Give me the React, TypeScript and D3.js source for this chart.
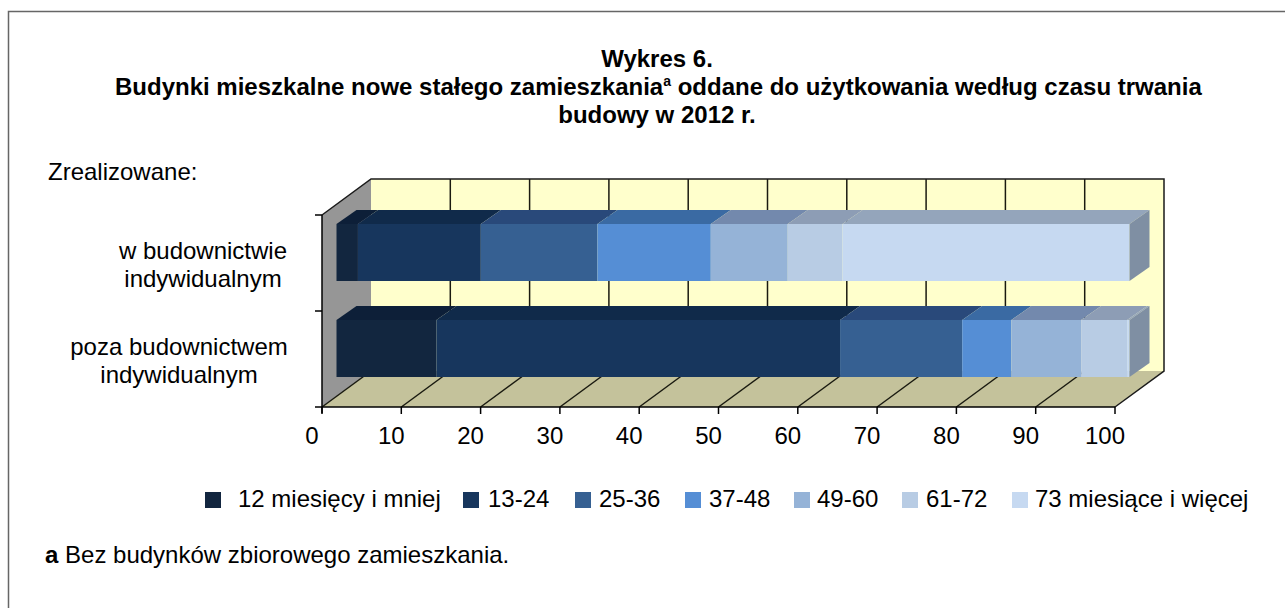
import React from "react"
import { scaleLinear, scaleBand, stack, line } from "d3"

const width = 1285
const height = 608

const categories = ["w budownictwie indywidualnym", "poza budownictwem indywidualnym"]
const seriesNames = ["12 miesięcy i mniej", "13-24", "25-36", "37-48", "49-60", "61-72", "73 miesiące i więcej"]
const individual = [2.7, 15.5, 14.7, 14.3, 9.7, 6.9, 36.2]
const nonIndividual = [12.6, 50.9, 15.4, 6.2, 8.8, 5.8, 0.3]
const xTicks = [0, 10, 20, 30, 40, 50, 60, 70, 80, 90, 100]

const frontColors = ["#12263f", "#17365d", "#366092", "#558ed5", "#95b3d7", "#b8cce4", "#c6d9f1"]
const topColors = ["#0d1f38", "#102a4a", "#29497a", "#3a6aa3", "#7389ad", "#8d9db5", "#94a5bb"]
const sideColor = "#7f8fa3"

const top = 215
const bottom = 407

const xScale = scaleLinear().domain([0, 100]).range([322, 1115])
const yScale = scaleBand().domain(categories).range([top, bottom])

// 3d offsets: full depth of the plot box, and bar placement inside it
const depth = { x: 49, y: -36 }
const barStart = { x: 14.5, y: 9 }
const barDepth = { x: 20, y: -14 }
const barHeight = 57

const rows = categories.map((_, c) => {
  const row: Record<string, number> = {}
  const values = c === 0 ? individual : nonIndividual
  seriesNames.forEach((name, i) => (row[name] = values[i]))
  return row
})
const layers = stack<Record<string, number>>().keys(seriesNames)(rows)

const poly = line()
const path = (pts: [number, number][]) => poly(pts) + "Z"

const font = "'Liberation Sans', Arial, sans-serif"

function Bar({ index }: { index: number }) {
  const y0 = (yScale(categories[index]) as number) + barStart.y
  const y1 = y0 + barHeight
  const x = (v: number) => xScale(v) + barStart.x
  const end = x(100)
  return (
    <g>
      {layers.map((layer, i) => {
        const [a, b] = layer[index]
        return (
          <g key={layer.key}>
            <path
              d={path([
                [x(a), y0],
                [x(b), y0],
                [x(b) + barDepth.x, y0 + barDepth.y],
                [x(a) + barDepth.x, y0 + barDepth.y],
              ])}
              fill={topColors[i]}
            />
            <rect x={x(a)} y={y0} width={x(b) - x(a)} height={barHeight} fill={frontColors[i]} />
          </g>
        )
      })}
      <path
        d={path([
          [end, y0],
          [end + barDepth.x, y0 + barDepth.y],
          [end + barDepth.x, y1 + barDepth.y],
          [end, y1],
        ])}
        fill={sideColor}
      />
    </g>
  )
}

function App() {
  const x0 = xScale(0)
  const x1 = xScale(100)
  const backLeft = x0 + depth.x
  const backRight = x1 + depth.x

  return (
    <svg
      width={width}
      height={height}
      style={{ position: "absolute", left: 0, top: 0 }}
      fontFamily={font}
    >
      <rect width={width} height={height} fill="#fff" />
      <path d={`M8.5,${height}V11.5H${width}`} fill="none" stroke="#666" strokeWidth={1.5} />

      <g fontWeight="bold" fontSize={24} fill="#000">
        <text x={657} y={67} textAnchor="middle">Wykres 6.</text>
        <text x={115} y={95}>
          Budynki mieszkalne nowe stałego zamieszkania
          <tspan fontSize={14} dy={-9}>a</tspan>
          <tspan dy={9}> oddane do użytkowania według czasu trwania</tspan>
        </text>
        <text x={657} y={123} textAnchor="middle">budowy w 2012 r.</text>
      </g>

      <text x={48} y={180} fontSize={24} fill="#000">Zrealizowane:</text>

      {/* walls */}
      <rect x={backLeft} y={top + depth.y} width={x1 - x0} height={bottom - top} fill="#ffffcc" />
      <path
        d={path([
          [x0, top],
          [backLeft, top + depth.y],
          [backLeft, bottom + depth.y],
          [x0, bottom],
        ])}
        fill="#969696"
      />
      <path
        d={path([
          [x0, bottom],
          [x1, bottom],
          [backRight, bottom + depth.y],
          [backLeft, bottom + depth.y],
        ])}
        fill="#c4c29b"
      />

      {/* grid */}
      {xTicks.map((t) => (
        <g key={t} stroke="#1a1a10" strokeWidth={1.5}>
          {t > 0 && t < 100 && (
            <line
              x1={xScale(t) + depth.x}
              x2={xScale(t) + depth.x}
              y1={top + depth.y}
              y2={bottom + depth.y}
            />
          )}
          {t < 100 && (
            <line
              x1={xScale(t)}
              y1={bottom}
              x2={xScale(t) + depth.x}
              y2={bottom + depth.y}
            />
          )}
        </g>
      ))}
      <path
        d={`M${x0},${top}L${backLeft},${top + depth.y}H${backRight}V${bottom + depth.y}L${x1},${bottom}`}
        fill="none"
        stroke="#1a1a1a"
        strokeWidth={1.5}
      />

      <Bar index={0} />
      <Bar index={1} />

      {/* axes */}
      <g stroke="#000" strokeWidth={1.5}>
        <line x1={x0} x2={x0} y1={top} y2={bottom + 6} />
        <line x1={x0} x2={x1} y1={bottom} y2={bottom} />
        {[top, top + yScale.bandwidth(), bottom].map((y) => (
          <line key={y} x1={x0 - 7} x2={x0} y1={y} y2={y} />
        ))}
        {xTicks.map((t) => (
          <line key={t} x1={xScale(t)} x2={xScale(t)} y1={bottom} y2={bottom + 7} />
        ))}
      </g>
      <g textAnchor="middle" fontSize={24} fill="#000">
        {xTicks.map((t) => (
          <text key={t} x={xScale(t) - 10} y={444}>{t}</text>
        ))}
      </g>

      <g textAnchor="middle" fontSize={24} fill="#000">
        <text x={203} y={259}>w budownictwie</text>
        <text x={203} y={287}>indywidualnym</text>
        <text x={179} y={355}>poza budownictwem</text>
        <text x={179} y={383}>indywidualnym</text>
      </g>

      {/* legend */}
      {seriesNames.map((name, i) => {
        const sx = [205, 463, 575, 685, 794, 902, 1012][i]
        const tx = [238, 488, 599, 709, 817, 926, 1035][i]
        return (
          <g key={name}>
            <rect x={sx} y={492} width={16} height={16} fill={frontColors[i]} />
            <text x={tx} y={507} fontSize={24} fill="#000">{name}</text>
          </g>
        )
      })}

      <text x={45} y={563} fontSize={24} fill="#000">
        <tspan fontWeight="bold">a</tspan> Bez budynków zbiorowego zamieszkania.
      </text>
    </svg>
  )
}

export default App
